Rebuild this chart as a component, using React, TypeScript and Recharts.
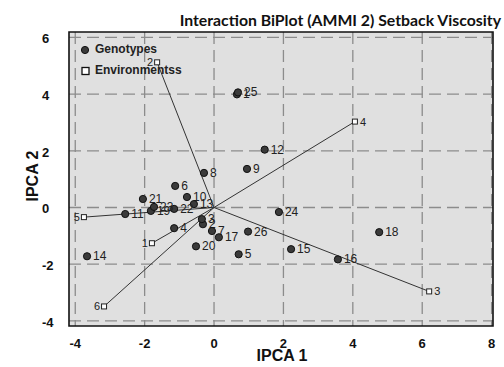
import React from 'react'
import {
  ScatterChart,
  Scatter,
  XAxis,
  YAxis,
  CartesianGrid,
  ReferenceLine,
  ReferenceArea,
} from 'recharts'

// genotype scores (IPCA1, IPCA2)
const genoNames = ['1', '2', '3', '4', '5', '6', '7', '8', '9', '10', '11', '12', '13', '14', '15', '16', '17', '18', '19', '20', '21', '22', '23', '24', '25', '26']
const genoIpca1 = [0.66, -0.32, -0.35, -1.15, 0.71, -1.12, -0.06, -0.29, 0.95, -0.78, -2.56, 1.46, -0.58, -3.66, 2.22, 3.57, 0.14, 4.76, -1.82, -0.52, -2.05, -1.15, -1.73, 1.87, 0.69, 0.98]
const genoIpca2 = [3.99, -0.59, -0.41, -0.73, -1.65, 0.76, -0.83, 1.22, 1.36, 0.37, -0.23, 2.04, 0.12, -1.72, -1.47, -1.83, -1.05, -0.87, -0.12, -1.37, 0.3, -0.05, 0.02, -0.16, 4.06, -0.85]

// environment scores
const envNames = ['1', '2', '3', '4', '5', '6']
const envIpca1 = [-1.79, -1.64, 6.2, 4.06, -3.75, -3.17]
const envIpca2 = [-1.26, 5.12, -2.96, 3.03, -0.34, -3.49]

const xTicks = [-4, -2, 0, 2, 4, 6, 8]
const yTicks = [-4, -2, 0, 2, 4, 6]
const xDomain = [-4.18, 8.04]
const yDomain = [-4.18, 6.19]

const genotypes = genoNames.map((name, i) => ({ name, x: genoIpca1[i], y: genoIpca2[i] }))
const environments = envNames.map((name, i) => ({ name, x: envIpca1[i], y: envIpca2[i] }))

const axisFont = '"Liberation Sans", Arial, sans-serif'

function GenoDot(props: any) {
  const { cx, cy, payload } = props
  return (
    <g>
      <circle cx={cx} cy={cy} r={3.6} fill="#3a3a3a" stroke="#111" strokeWidth={1} />
      <text x={cx + 6} y={cy + 4} fontSize={12} fontFamily={axisFont} fill="#222">
        {payload.name}
      </text>
    </g>
  )
}

function EnvDot(props: any) {
  const { cx, cy, payload } = props
  const right = payload.x > 2
  return (
    <g>
      <rect x={cx - 2.5} y={cy - 2.5} width={5} height={5} fill="#fff" stroke="#222" strokeWidth={1} />
      <text
        x={right ? cx + 5 : cx - 4}
        y={cy + 4}
        fontSize={11}
        fontFamily={axisFont}
        fill="#222"
        textAnchor={right ? 'start' : 'end'}
      >
        {payload.name}
      </text>
    </g>
  )
}

const XTick = ({ x, y, payload }: any) => (
  <text x={x} y={y + 14} textAnchor="middle" fontSize={13} fontWeight="bold" fontFamily={axisFont} fill="#111">
    {payload.value}
  </text>
)

const YTick = ({ y, payload }: any) => (
  <text x={42} y={y + 6} textAnchor="start" fontSize={13} fontWeight="bold" fontFamily={axisFont} fill="#111">
    {payload.value}
  </text>
)

export default function App() {
  return (
    <div style={{ position: 'relative', width: 504, height: 367, background: '#fff' }}>
      <style>{'body{margin:0}'}</style>
      <ScatterChart width={504} height={367} margin={{ top: 32, right: 11, bottom: 11, left: 0 }}>
        <CartesianGrid
          fill="#e0e0e0"
          stroke="#8c8c8c"
          strokeWidth={1.3}
          strokeDasharray="12 6"
          horizontalValues={yTicks}
          verticalValues={xTicks}
        />
        <XAxis
          type="number"
          dataKey="x"
          domain={xDomain}
          ticks={xTicks}
          allowDataOverflow
          height={30}
          axisLine={false}
          tickLine={false}
          tick={<XTick />}
        />
        <YAxis
          type="number"
          dataKey="y"
          domain={yDomain}
          ticks={yTicks}
          allowDataOverflow
          width={69}
          axisLine={false}
          tickLine={false}
          tick={<YTick />}
        />
        <ReferenceArea
          x1={xDomain[0]}
          x2={xDomain[1]}
          y1={yDomain[0]}
          y2={yDomain[1]}
          fill="none"
          stroke="#111"
          strokeWidth={1.6}
          ifOverflow="visible"
        />
        {environments.map((e) => (
          <ReferenceLine
            key={'l' + e.name}
            segment={[{ x: 0, y: 0 }, { x: e.x, y: e.y }]}
            stroke="#333"
            strokeWidth={1}
          />
        ))}
        <Scatter data={environments} shape={<EnvDot />} isAnimationActive={false} />
        <Scatter data={genotypes} shape={<GenoDot />} isAnimationActive={false} />
      </ScatterChart>

      <div
        style={{
          position: 'absolute',
          right: 3,
          top: 10,
          fontFamily: 'Lato, "Liberation Sans", sans-serif',
          fontWeight: 'bold',
          fontSize: 15.8,
          color: '#111',
          whiteSpace: 'nowrap',
        }}
      >
        Interaction BiPlot (AMMI 2) Setback Viscosity
      </div>

      <div style={{ position: 'absolute', left: 80, top: 39, fontFamily: axisFont, fontWeight: 'bold', fontSize: 12, color: '#222', lineHeight: '21px' }}>
        <div style={{ display: 'flex', alignItems: 'center' }}>
          <svg width={15} height={10}>
            <circle cx={5} cy={5} r={3.6} fill="#3a3a3a" stroke="#111" />
          </svg>
          <span>Genotypes</span>
        </div>
        <div style={{ display: 'flex', alignItems: 'center' }}>
          <svg width={15} height={10}>
            <rect x={2} y={1.5} width={7} height={7} fill="#fff" stroke="#111" strokeWidth={1.3} />
          </svg>
          <span>Environmentss</span>
        </div>
      </div>

      <div
        style={{
          position: 'absolute',
          left: 282,
          top: 347,
          transform: 'translateX(-50%)',
          fontFamily: axisFont,
          fontWeight: 'bold',
          fontSize: 16,
          color: '#111',
          whiteSpace: 'nowrap',
        }}
      >
        IPCA 1
      </div>
      <div
        style={{
          position: 'absolute',
          left: 33,
          top: 176,
          transform: 'translate(-50%, -50%) rotate(-90deg)',
          fontFamily: axisFont,
          fontWeight: 'bold',
          fontSize: 16,
          color: '#111',
          whiteSpace: 'nowrap',
        }}
      >
        IPCA 2
      </div>
    </div>
  )
}
